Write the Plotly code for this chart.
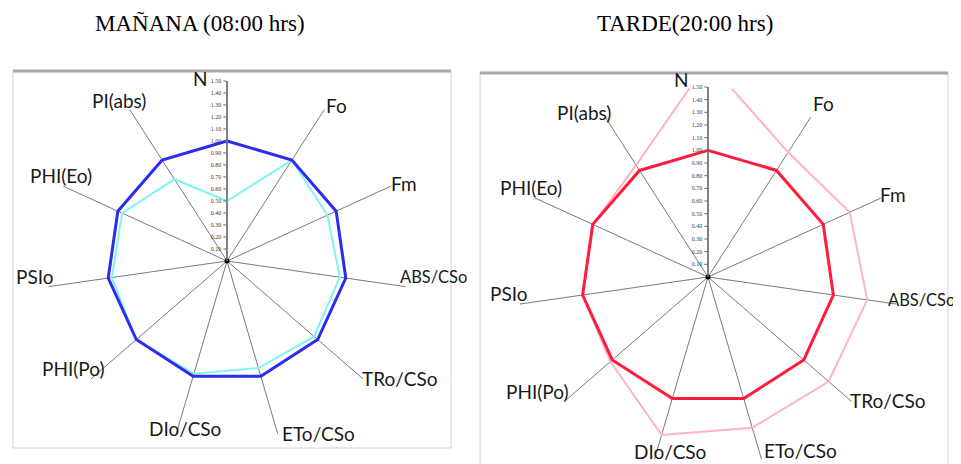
import plotly.graph_objects as go

W, H = 961, 464
OFF = 8  # page body margin offset

categories = ["N", "Fo", "Fm", "ABS/CSo", "TRo/CSo", "ETo/CSo",
              "DIo/CSo", "PHI(Po)", "PSIo", "PHI(Eo)", "PI(abs)"]
ref_manana = [1.00, 1.00, 1.00, 1.00, 1.00, 1.00, 1.00, 1.00, 1.00, 1.00, 1.00]
manana = [0.50, 1.00, 0.92, 0.95, 0.96, 0.93, 0.98, 1.00, 0.97, 0.96, 0.81]
ref_tarde = [1.00, 1.00, 1.00, 1.00, 1.00, 1.00, 1.00, 1.00, 1.00, 1.00, 1.00]
tarde = [1.70, 1.17, 1.23, 1.27, 1.26, 1.24, 1.30, 1.02, 1.00, 1.00, 1.05]
radial_ticks = [0.10, 0.20, 0.30, 0.40, 0.50, 0.60, 0.70, 0.80, 0.90, 1.00,
                1.10, 1.20, 1.30, 1.40, 1.50]
radial_labels = ["%.2f" % v for v in radial_ticks]
titles = ["MAÑANA (08:00 hrs)", "TARDE(20:00 hrs)"]

LABEL_FONT = "Lato, Noto Sans, sans-serif"

# category label placement (screen px), as laid out in the original charts
label_pos_left = [(200, 79), (336, 105), (404, 183), (433, 277), (399, 378),
                  (318, 433), (185, 428), (73, 368), (35, 276), (61, 175),
                  (119, 100)]
label_pos_right = [(681, 80), (823, 104), (893, 194), (921, 300), (887, 400),
                   (800, 450), (670, 451), (537, 391), (509, 293), (531, 187),
                   (584, 112)]


def closed(vals):
    return list(vals) + [vals[0]]


theta = closed(categories)

fig = go.Figure()

# left chart
fig.add_trace(go.Scatterpolar(r=closed(manana), theta=theta, mode="lines",
                              line=dict(color="#80f4f4", width=2), subplot="polar",
                              showlegend=False))
fig.add_trace(go.Scatterpolar(r=closed(ref_manana), theta=theta, mode="lines",
                              line=dict(color="#2c2cf0", width=3), subplot="polar",
                              showlegend=False))
fig.add_trace(go.Scatterpolar(r=[0], theta=[categories[0]], mode="markers",
                              marker=dict(color="black", size=5), subplot="polar",
                              showlegend=False))
# right chart
fig.add_trace(go.Scatterpolar(r=closed(tarde), theta=theta, mode="lines",
                              line=dict(color="#ffb3c3", width=2), subplot="polar2",
                              showlegend=False))
fig.add_trace(go.Scatterpolar(r=closed(ref_tarde), theta=theta, mode="lines",
                              line=dict(color="#ff1c3c", width=3), subplot="polar2",
                              showlegend=False))
fig.add_trace(go.Scatterpolar(r=[0], theta=[categories[0]], mode="markers",
                              marker=dict(color="black", size=5), subplot="polar2",
                              showlegend=False))


def px(x):
    return (x - OFF) / W


def py(y):
    return 1 - (y - OFF) / H


def polar_cfg(cx, cy, rad):
    # cx, cy: center in screen pixels, rad: radius in px for r = 1.5
    return dict(
        domain=dict(x=[px(cx - rad), px(cx + rad)],
                    y=[max(0.0, py(cy + rad)), py(cy - rad)]),
        bgcolor="rgba(0,0,0,0)",
        angularaxis=dict(
            type="category", categoryarray=categories, direction="clockwise",
            rotation=90, showline=False, showgrid=True, gridcolor="#7a7a7a",
            gridwidth=1.3, ticks="", showticklabels=False,
        ),
        radialaxis=dict(
            range=[0, 1.5], angle=90, side="counterclockwise", tickangle=90,
            showgrid=False, showline=True, linecolor="#6d6d6d", linewidth=1.5,
            ticks="outside", ticklen=3, tickcolor="#6d6d6d",
            tickmode="array", tickvals=radial_ticks, ticktext=radial_labels,
            tickfont=dict(family="Liberation Serif, serif", size=6, color="#3a3a3a"),
        ),
    )


fig.update_layout(
    width=W, height=H,
    margin=dict(l=0, r=0, t=0, b=0),
    paper_bgcolor="white", plot_bgcolor="white",
    polar=polar_cfg(227, 261, 180),
    polar2=polar_cfg(708, 277, 190),
)

shapes = []
# left frame
shapes.append(dict(type="rect", xref="paper", yref="paper", x0=px(13), x1=px(451),
                   y0=py(448), y1=py(71), line=dict(color="#d4d4d4", width=1),
                   layer="below"))
shapes.append(dict(type="line", xref="paper", yref="paper", x0=px(13), x1=px(451),
                   y0=py(71), y1=py(71), line=dict(color="#a8a8a8", width=3)))
# right frame
shapes.append(dict(type="rect", xref="paper", yref="paper", x0=px(480), x1=px(948),
                   y0=py(475), y1=py(73), line=dict(color="#d4d4d4", width=1),
                   layer="below"))
shapes.append(dict(type="line", xref="paper", yref="paper", x0=px(480), x1=px(948),
                   y0=py(73), y1=py(73), line=dict(color="#a8a8a8", width=3)))
fig.update_layout(shapes=shapes)

for t, cx in zip(titles, [200, 685]):
    fig.add_annotation(text=t, x=px(cx), y=py(24), xref="paper", yref="paper",
                       showarrow=False, xanchor="center", yanchor="middle",
                       font=dict(family="Liberation Serif, Times New Roman, serif",
                                 size=23, color="black"))

for positions in (label_pos_left, label_pos_right):
    for c, (cx, cy) in zip(categories, positions):
        size = 16.5 if c == "ABS/CSo" else 19
        fig.add_annotation(text=c, x=px(cx), y=py(cy), xref="paper", yref="paper",
                           showarrow=False, xanchor="center", yanchor="middle",
                           font=dict(family=LABEL_FONT, size=size, color="#1a1a1a"))

fig.write_html("out.html")
